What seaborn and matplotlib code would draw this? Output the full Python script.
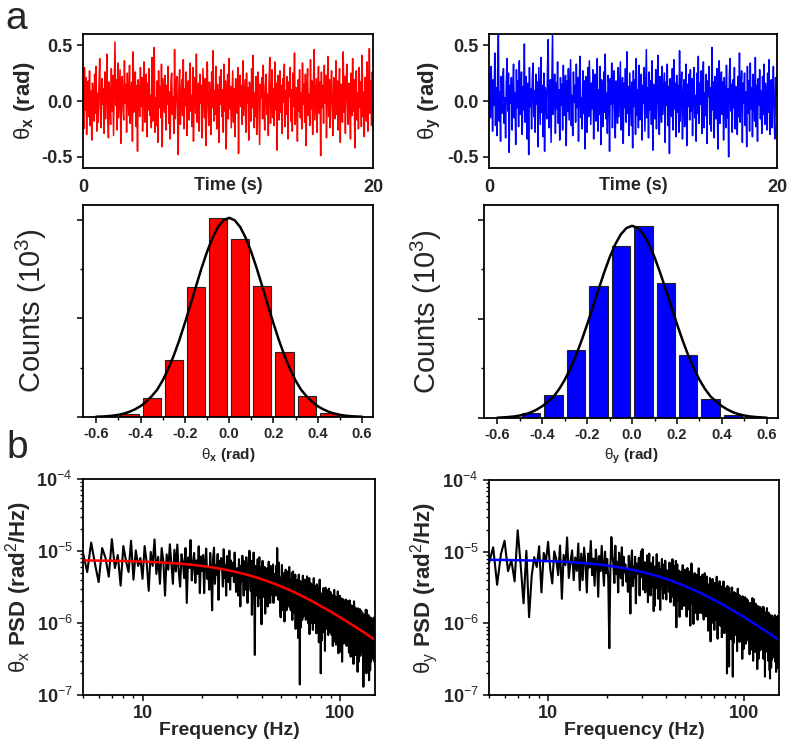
import numpy as np
import matplotlib
matplotlib.use('Agg')
import matplotlib.pyplot as plt
import seaborn as sns
from matplotlib.ticker import MultipleLocator, LogLocator, NullFormatter

# ---- panel a: angle traces (hundredths of a rad), 0-20 s ----
theta_x_trace = [
    12, -25, 30, -8, 21, -30, 5, 18, -14, 27, -22, 9, -35, 16, 3, -18, 24, -11, 31, -27,
    7, -19, 14, 38, -6, -24, 20, -3, 11, -29, 26, -16, 8, 42, -12, -33, 17, 1, -21, 29,
    -9, 23, -31, 13, 53, -4, 19, -26, 34, -15, 6, 28, -38, 10, 22, -7, -17, 36, -2, 15,
    -28, 25, 4, -13, 32, -20, 9, 17, -36, 44, -10, 2, 26, -23, 14, -45, 19, 7, -14, 30,
    -5, 21, -27, 12, 35, -19, 0, 24, -32, 16, -8, 29, -13, 5, -24, 39, -18, 11, 48, -28,
    3, -22, 18, -37, 27, -6, 13, -15, 33, -41, 20, 6, -10, 23, -26, 14, -3, 31, -20, 8,
    -34, 17, 25, -12, 4, -29, 46, -16, 10, 22, -7, -48, 15, 28, -21, 2, 19, -13, 37, -25,
    11, -4, 26, -31, 8, 18, -17, 34, -9, 5, -23, 30, -36, 13, 21, -11, 42, -19, 3, 16,
    -27, 24, -2, 14, -33, 29, 7, -15, 20, -40, 12, 35, -8, -22, 17, 1, -30, 26, -6, 45,
    -18, 9, -12, 31, -25, 15, 4, -37, 22, -3, 28, -14, 10, -28, 33, -9, 18, -43, 6, 24,
    -16, 38, -7, 13, -24, 2, 27, -19, 11, -32, 20, 8, -11, 30, -47, 16, 23, -5, 14, -21,
    36, -13, 4, 19, -28, 25, -2, 12, -35, 17, 9, -18, 29, -6, 41, -24, 7, -14, 22, -30,
    10, 26, -9, -39, 15, 3, 21, -16, 32, -4, -26, 13, 24, -12, 6, -31, 18, 39, -20, 1,
    28, -15, 11, -22, 35, -8, 16, -44, 23, 5, -17, 27, -10, 14, -29, 20, -1, 33, -23, 9,
    -12, 22, -34, 17, 4, 30, -18, 10, -27, 25, -5, 43, -21, 12, 2, -36, 19, -9, 28, -15,
    7, -25, 34, -3, 15, -19, 24, -40, 11, 29, -13, 6, -22, 37, -7, 18, -30, 13, 46, -17,
    2, 20, -28, 9, 31, -11, 17, -49, 26, -6, 14, -20, 32, -2, 23, -33, 8, 40, -14, 19,
    -24, 12, 27, -8, -31, 21, 5, -16, 36, -12, 18, -26, 10, 29, -37, 15, 3, -19, 44, -10,
    22, -29, 13, 33, -4, -21, 16, 6, -34, 25, -13, 38, -9, 19, -42, 11, 27, -17, 7, -25,
    30, -6, 17, -23, 41, -14, 8, -32, 21, 12, -18, 35, -27, 4, 47, -11, 18, -22, 26, 10,
]
theta_y_trace = [
    -8, 24, -15, 31, 6, -27, 19, -4, 43, -22, 12, -31, 27, 60, -18, 8, -36, 22, -11, 15,
    29, -20, 3, -33, 17, 38, -9, 25, -46, 14, -2, 21, -26, 10, 33, -15, 7, -39, 28, -6,
    18, -23, 36, -12, 4, 26, -30, 13, -8, 51, -19, 22, 1, -34, 16, -48, 30, -5, 11, -25,
    20, 34, -14, 9, -28, 24, -3, 17, -41, 30, 6, -21, 39, -10, 14, -32, 25, -45, 12, 3,
    -16, 28, 55, -24, 8, 19, -37, 13, 60, -12, 2, 24, -29, 16, -7, 35, -20, 10, -35, 21,
    -4, 15, -26, 32, -13, 7, 23, -40, 18, -9, 29, -17, 11, 37, -22, 5, -31, 26, -1, 14,
    -19, 33, -6, 21, -36, 12, 40, -15, 3, -25, 27, -11, 18, -43, 22, 8, -28, 30, -14, 36,
    9, -21, 16, -7, 28, -34, 13, 24, -18, 5, 38, -27, 10, -12, 31, -39, 19, 2, -23, 26,
    -10, 42, -16, 7, -29, 23, 15, -45, 20, -3, 34, -24, 12, 27, -8, -33, 18, 6, -20, 30,
    -14, 11, 35, -26, 4, 21, -38, 16, -6, 29, -19, 44, -11, 13, -31, 25, 2, -22, 17, -42,
    27, -5, 19, -30, 38, -13, 10, -24, 32, -17, 7, 24, -35, 14, -2, 30, -27, 9, 46, -15,
    12, -33, 26, -8, 18, -21, 36, -44, 15, 4, -16, 28, -25, 11, 41, -9, -30, 22, 3, -19,
    31, -12, 8, 25, -37, 17, -4, 33, -22, 13, -47, 20, 6, -14, 29, -26, 37, -7, 16, -32,
    23, -10, 14, -28, 45, -18, 9, 26, -34, 2, 19, -23, 12, 33, -40, 15, -5, 24, -17, 28,
    -9, 20, -31, 13, 30, -15, 5, -36, 25, -11, 40, -20, 16, -3, 27, -29, 10, 35, -24, 7,
    -13, 24, -38, 18, 4, 31, -21, 12, -27, 48, -8, 17, -33, 22, 1, -16, 29, -43, 14, 36,
    -20, 9, 26, -12, 17, -35, 21, 3, -24, 32, -15, 11, -50, 23, 38, -9, 15, -28, 19, -6,
    30, -25, 13, 6, -30, 22, -14, 43, -19, 10, 27, -37, 16, -2, 25, -22, 8, -41, 31, -11,
    18, -27, 34, -7, 12, -32, 24, 5, -18, 39, -23, 14, -36, 20, -4, 28, -16, 9, -29, 22,
    -12, 33, -21, 16, 3, -26, 25, -10, 37, -30, 11, 19, -24, 8, 31, -15, -34, 21, 4, 24,
]

# ---- histograms (counts in 10^3) ----
bin_centers = [-0.45, -0.35, -0.25, -0.15, -0.05, 0.05, 0.15, 0.25, 0.35, 0.45]
counts_x = [0.027, 0.19, 0.58, 1.32, 2.02, 1.81, 1.33, 0.66, 0.21, 0.044]
counts_y = [0.047, 0.23, 0.69, 1.33, 1.74, 1.94, 1.36, 0.64, 0.19, 0.027]

gauss_theta = [-0.6, -0.575, -0.55, -0.525, -0.5, -0.475, -0.45, -0.425, -0.4, -0.375,
               -0.35, -0.325, -0.3, -0.275, -0.25, -0.225, -0.2, -0.175, -0.15, -0.125,
               -0.1, -0.075, -0.05, -0.025, 0.0, 0.025, 0.05, 0.075, 0.1, 0.125, 0.15,
               0.175, 0.2, 0.225, 0.25, 0.275, 0.3, 0.325, 0.35, 0.375, 0.4, 0.425, 0.45,
               0.475, 0.5, 0.525, 0.55, 0.575, 0.6]
gauss_fit_x = [0.003, 0.005, 0.008, 0.014, 0.022, 0.035, 0.053, 0.078, 0.11, 0.155,
               0.21, 0.277, 0.371, 0.487, 0.623, 0.779, 0.952, 1.135, 1.323, 1.506,
               1.673, 1.817, 1.927, 1.996, 2.02, 1.996, 1.927, 1.817, 1.673, 1.506, 1.323,
               1.135, 0.952, 0.779, 0.623, 0.487, 0.371, 0.277, 0.21, 0.155, 0.11, 0.078,
               0.053, 0.035, 0.022, 0.014, 0.008, 0.005, 0.003]
gauss_fit_y = [0.003, 0.006, 0.010, 0.016, 0.025, 0.038, 0.058, 0.085, 0.12, 0.165,
               0.216, 0.292, 0.386, 0.500, 0.633, 0.783, 0.947, 1.120, 1.296, 1.466,
               1.622, 1.754, 1.855, 1.918, 1.94, 1.918, 1.855, 1.754, 1.622, 1.466, 1.296,
               1.120, 0.947, 0.783, 0.633, 0.500, 0.386, 0.292, 0.216, 0.165, 0.12, 0.085,
               0.058, 0.038, 0.025, 0.016, 0.010, 0.006, 0.003]

# ---- panel b: PSD, 5-150 Hz every 0.25 Hz, in units of 1e-8 rad^2/Hz ----
psd_x = [
    950, 510, 1310, 660, 370, 1100, 800, 440, 1460, 580, 880, 330, 1170, 730, 510, 1390, 400, 1020, 620, 800,
    410, 1170, 690, 280, 970, 620, 1450, 480, 830, 350, 1100, 720, 240, 900, 550, 1240, 660, 350, 1040, 520,
    1230, 520, 320, 900, 710, 420, 1100, 190, 810, 580, 1420, 390, 650, 940, 360, 740, 480, 1160, 260, 840,
    530, 880, 260, 700, 1080, 410, 590, 290, 940, 500, 150, 790, 1110, 350, 640, 470, 910, 210, 730, 560,
    800, 580, 320, 1060, 420, 640, 240, 850, 530, 370, 1010, 290, 740, 450, 580, 690, 370, 950, 480, 270,
    340, 580, 240, 770, 500, 170, 620, 380, 860, 460, 240, 720, 360, 290, 820, 480, 190, 670, 430, 1010,
    470, 280, 730, 130, 540, 390, 950, 260, 36, 620, 240, 500, 320, 770, 170, 560, 820, 340, 220, 600,
    96, 520, 730, 230, 420, 310, 600, 135, 480, 370, 350, 580, 170, 460, 710, 270, 390, 190, 620, 330,
    550, 340, 240, 650, 190, 480, 290, 380, 450, 240, 620, 310, 1100, 510, 380, 210, 690, 270, 410, 150,
    120, 430, 270, 640, 210, 370, 150, 490, 320, 105, 400, 240, 550, 290, 150, 460, 230, 180, 520, 300,
    250, 600, 165, 275, 400, 150, 320, 205, 500, 110, 360, 520, 220, 140, 385, 300, 180, 470, 83, 345,
    175, 245, 125, 395, 210, 62, 335, 470, 150, 270, 14, 385, 86, 310, 235, 220, 370, 110, 295, 455,
    122, 310, 190, 245, 290, 155, 400, 200, 111, 335, 245, 133, 445, 178, 265, 100, 355, 220, 155, 420,
    70, 260, 160, 360, 190, 100, 300, 150, 120, 340, 200, 80, 280, 180, 420, 140, 240, 100, 320, 210,
    210, 136, 325, 72, 235, 345, 145, 91, 255, 200, 118, 310, 54, 225, 163, 400, 109, 180, 260, 20,
    131, 255, 57, 205, 156, 148, 245, 74, 197, 305, 115, 164, 82, 262, 139, 41, 220, 310, 98, 180,
    165, 128, 210, 83, 285, 105, 150, 240, 68, 180, 120, 300, 90, 165, 225, 75, 135, 270, 105, 195,
    103, 205, 69, 130, 245, 110, 178, 48, 144, 220, 69, 164, 96, 288, 123, 192, 55, 137, 233, 82,
    163, 50, 225, 94, 144, 69, 181, 125, 75, 275, 113, 156, 38, 213, 81, 138, 175, 63, 100, 238,
    109, 144, 40, 178, 92, 127, 69, 219, 155, 29, 98, 184, 58, 115, 81, 213, 138, 52, 173, 104,
    138, 74, 191, 95, 53, 159, 117, 64, 212, 85, 127, 48, 170, 106, 74, 201, 58, 148, 90, 117,
    59, 167, 98, 39, 137, 88, 206, 69, 118, 49, 157, 103, 34, 127, 78, 176, 93, 49, 147, 74,
    173, 73, 46, 127, 100, 59, 155, 27, 114, 82, 200, 55, 91, 132, 50, 105, 68, 164, 36, 118,
    76, 126, 38, 101, 155, 59, 84, 42, 134, 71, 21, 113, 160, 50, 92, 67, 130, 29, 105, 80,
    117, 86, 47, 156, 62, 94, 35, 125, 78, 55, 148, 43, 109, 66, 86, 101, 55, 140, 70, 39,
    51, 88, 37, 117, 13, 26, 95, 58, 131, 69, 37, 110, 55, 44, 124, 73, 29, 102, 66, 153,
    75, 44, 116, 20, 85, 61, 150, 41, 68, 99, 37, 78, 51, 122, 27, 88, 129, 54, 34, 95,
    16, 86, 122, 38, 70, 51, 99, 22, 80, 61, 58, 96, 29, 77, 118, 45, 64, 32, 102, 54,
    96, 60, 42, 114, 33, 84, 51, 66, 78, 42, 108, 54, 30, 90, 66, 36, 120, 48, 72, 27,
]
psd_y = [
    690, 1150, 345, 920, 1420, 535, 765, 385, 1990, 650, 190, 1030, 122, 460, 840, 610, 1190, 270, 960, 730,
    1370, 580, 360, 1010, 790, 470, 1220, 220, 900, 650, 1580, 430, 720, 1040, 400, 830, 540, 1300, 290, 940,
    400, 1140, 670, 270, 940, 600, 1410, 470, 800, 335, 1070, 700, 235, 870, 535, 1210, 640, 335, 1000, 500,
    790, 420, 45, 545, 1600, 910, 665, 365, 1210, 485, 725, 270, 970, 605, 425, 1150, 335, 850, 515, 665,
    385, 550, 275, 875, 465, 137, 740, 1040, 330, 605, 440, 850, 190, 685, 520, 495, 820, 245, 660, 1010,
    445, 1085, 295, 495, 715, 270, 565, 370, 890, 197, 640, 940, 395, 245, 690, 540, 320, 840, 148, 615,
    176, 616, 396, 924, 308, 528, 220, 704, 462, 154, 572, 352, 792, 418, 220, 660, 330, 264, 748, 440,
    215, 550, 335, 430, 510, 275, 705, 355, 197, 590, 430, 235, 785, 315, 470, 177, 630, 395, 275, 745,
    88, 473, 665, 210, 385, 280, 543, 123, 438, 333, 315, 525, 158, 420, 648, 245, 350, 175, 560, 298,
    358, 233, 560, 124, 404, 591, 249, 156, 435, 342, 202, 529, 93, 389, 280, 684, 187, 311, 451, 171,
    98, 363, 223, 502, 265, 140, 419, 209, 167, 474, 279, 112, 391, 251, 586, 195, 335, 140, 446, 293,
    275, 213, 350, 138, 475, 175, 250, 400, 113, 300, 200, 500, 150, 275, 375, 125, 225, 450, 175, 325,
    214, 281, 79, 349, 180, 248, 135, 428, 304, 56, 191, 360, 113, 225, 158, 416, 270, 101, 338, 203,
    264, 81, 365, 152, 233, 112, 294, 203, 122, 447, 183, 254, 61, 345, 132, 223, 284, 102, 162, 386,
    137, 275, 92, 174, 329, 146, 238, 64, 192, 293, 92, 220, 128, 384, 165, 256, 73, 183, 311, 110,
    216, 116, 299, 149, 83, 249, 20, 100, 332, 133, 199, 75, 266, 166, 25, 315, 91, 232, 141, 183,
    91, 257, 151, 60, 211, 136, 317, 106, 181, 18, 242, 159, 53, 196, 121, 272, 143, 76, 227, 113,
    262, 110, 69, 193, 152, 90, 235, 41, 173, 124, 304, 83, 138, 200, 76, 159, 104, 248, 55, 179,
    113, 189, 57, 151, 233, 88, 126, 63, 202, 107, 32, 170, 239, 76, 139, 101, 195, 44, 158, 120,
    174, 128, 70, 232, 93, 139, 52, 186, 116, 81, 220, 64, 162, 99, 128, 151, 81, 209, 104, 58,
    75, 128, 54, 171, 112, 37, 139, 86, 193, 102, 54, 161, 80, 64, 182, 107, 43, 150, 96, 225,
    109, 64, 168, 30, 124, 89, 218, 59, 99, 144, 54, 114, 74, 178, 40, 129, 188, 79, 50, 139,
    64, 92, 46, 147, 78, 23, 124, 175, 55, 101, 74, 143, 32, 115, 87, 83, 138, 41, 110, 170,
    136, 85, 60, 162, 47, 119, 72, 94, 111, 60, 153, 77, 43, 128, 94, 51, 170, 68, 102, 38,
    32, 111, 71, 166, 55, 95, 40, 126, 83, 18, 103, 63, 142, 75, 40, 119, 59, 47, 134, 79,
    67, 163, 44, 74, 107, 41, 85, 56, 133, 30, 96, 141, 59, 37, 104, 81, 48, 126, 22, 93,
    17, 93, 131, 41, 76, 55, 107, 24, 86, 66, 62, 104, 31, 83, 128, 48, 69, 35, 110, 59,
    36, 91, 55, 72, 85, 46, 117, 59, 33, 98, 72, 39, 130, 52, 78, 29, 104, 65, 46, 124,
    21, 79, 49, 110, 58, 31, 92, 46, 37, 104, 61, 24, 85, 55, 128, 43, 73, 31, 98, 64,
]

# Lorentzian fits, units of 1e-6 rad^2/Hz
fit_freq = [5, 6, 7, 8, 9, 10, 12, 14, 16, 18, 20, 23, 26, 30, 35, 40, 45, 50, 57, 65,
            75, 85, 100, 115, 130, 150]
fit_x = [7.40, 7.36, 7.31, 7.26, 7.19, 7.13, 6.97, 6.80, 6.61, 6.41, 6.20, 5.87, 5.53,
         5.09, 4.56, 4.07, 3.63, 3.24, 2.77, 2.33, 1.89, 1.56, 1.20, 0.943, 0.758, 0.584]
fit_y = [7.70, 7.65, 7.60, 7.54, 7.47, 7.40, 7.23, 7.05, 6.84, 6.63, 6.40, 6.05, 5.70,
         5.23, 4.67, 4.16, 3.70, 3.30, 2.81, 2.36, 1.92, 1.58, 1.21, 0.949, 0.763, 0.587]


sns.set_theme(style='ticks')
plt.rcParams['font.family'] = ['Liberation Sans', 'DejaVu Sans']
plt.rcParams['mathtext.fontset'] = 'custom'
plt.rcParams['mathtext.rm'] = 'Liberation Sans'
plt.rcParams['mathtext.it'] = 'Liberation Sans:italic'
plt.rcParams['mathtext.bf'] = 'Liberation Sans:bold'
plt.rcParams['axes.unicode_minus'] = False
plt.rcParams['axes.edgecolor'] = 'black'
plt.rcParams['axes.linewidth'] = 1.3

W, H = 787, 742


def add_axes(fig, x0, y0, x1, y1):
    # pixel box -> figure fraction
    return fig.add_axes([x0 / W, 1 - y1 / H, (x1 - x0) / W, (y1 - y0) / H])


def style_ticks(ax, size):
    ax.tick_params(axis='both', which='major', direction='out', length=4, width=1.1,
                   labelsize=size, color='black')
    ax.tick_params(axis='both', which='minor', direction='out', length=2.5, width=1.0,
                   color='black')
    for lab in ax.get_xticklabels() + ax.get_yticklabels():
        lab.set_fontweight('bold')


def plot_trace(ax, trace, color, sub):
    t = np.linspace(0, 20, len(trace))
    sns.lineplot(x=t, y=np.array(trace) / 100, ax=ax, color=color, linewidth=1.1,
                 estimator=None, sort=False)
    ax.set_xlim(0, 20)
    ax.set_ylim(-0.6, 0.6)
    ax.set_yticks([-0.5, 0, 0.5], labels=['-0.5', '0.0', '0.5'])
    ax.set_xticks([0, 20], labels=['0', '20'])
    style_ticks(ax, 13)
    ax.tick_params(axis='x', length=0, pad=8)
    ax.set_xlabel('Time (s)', fontsize=13, fontweight='bold')
    ax.xaxis.set_label_coords(0.5, -0.065)
    ax.set_ylabel(r'$\mathrm{\theta}_{\mathbf{' + sub + r'}}$ (rad)', fontsize=16,
                  fontweight='bold', labelpad=3)


def plot_hist(ax, counts, fit, color, sub, pad):
    sns.barplot(x=bin_centers, y=counts, ax=ax, native_scale=True, width=0.82,
                color=color, saturation=1, edgecolor='#222222', linewidth=0.8,
                errorbar=None)
    sns.lineplot(x=gauss_theta, y=fit, ax=ax, color='black', linewidth=1.8,
                 estimator=None, sort=False)
    ax.set_xlim(-0.66, 0.65)
    ax.set_ylim(0, 2.15)
    ax.set_xticks([-0.6, -0.4, -0.2, 0, 0.2, 0.4, 0.6],
                  labels=['-0.6', '-0.4', '-0.2', '0.0', '0.2', '0.4', '0.6'])
    ax.xaxis.set_minor_locator(MultipleLocator(0.1))
    ax.set_yticks([0, 1, 2], labels=['', '', ''])
    ax.yaxis.set_minor_locator(MultipleLocator(0.5))
    style_ticks(ax, 10.5)
    ax.set_xlabel(r'$\mathrm{\theta}_{\mathbf{' + sub + r'}}$ (rad)', fontsize=11,
                  fontweight='bold', labelpad=3)
    ax.set_ylabel('Counts (10$^{3}$)', fontsize=21, labelpad=pad)


def plot_psd(ax, psd, fit, color, sub):
    freq = 5 + 0.25 * np.arange(len(psd))
    sns.lineplot(x=freq, y=np.array(psd) * 1e-8, ax=ax, color='black', linewidth=1.5,
                 estimator=None, sort=False)
    sns.lineplot(x=fit_freq, y=np.array(fit) * 1e-6, ax=ax, color=color, linewidth=1.8,
                 estimator=None, sort=False)
    ax.set_xscale('log')
    ax.set_yscale('log')
    ax.set_xlim(5, 150)
    ax.set_ylim(1e-7, 1e-4)
    ax.set_xticks([10, 100], labels=['10', '100'])
    ax.xaxis.set_minor_locator(LogLocator(base=10, subs=np.arange(2, 10)))
    ax.xaxis.set_minor_formatter(NullFormatter())
    ax.set_yticks([1e-7, 1e-6, 1e-5, 1e-4],
                  labels=[r'$\mathbf{10}^{-7}$', r'$\mathbf{10}^{-6}$',
                          r'$\mathbf{10}^{-5}$', r'$\mathbf{10}^{-4}$'])
    ax.yaxis.set_minor_locator(LogLocator(base=10, subs=np.arange(2, 10)))
    ax.yaxis.set_minor_formatter(NullFormatter())
    style_ticks(ax, 13)
    ax.set_xlabel('Frequency (Hz)', fontsize=14, fontweight='bold', labelpad=0)
    ax.set_ylabel(r'$\mathrm{\theta}_{\mathrm{' + sub + r'}}$ PSD (rad$^{2}$/Hz)',
                  fontsize=16, fontweight='bold', labelpad=2)


fig = plt.figure(figsize=(7.87, 7.42), dpi=100)

ax1 = add_axes(fig, 83, 34, 373, 168)
ax2 = add_axes(fig, 489, 34, 777, 168)
ax3 = add_axes(fig, 83, 205, 373, 417)
ax4 = add_axes(fig, 484, 205, 778, 418)
ax5 = add_axes(fig, 83, 479, 375, 695)
ax6 = add_axes(fig, 489, 480, 779, 695)

plot_trace(ax1, theta_x_trace, '#FF0000', 'x')
plot_trace(ax2, theta_y_trace, '#0000FF', 'y')
plot_hist(ax3, counts_x, gauss_fit_x, '#FF0000', 'x', 17)
plot_hist(ax4, counts_y, gauss_fit_y, '#0000FF', 'y', 21)
plot_psd(ax5, psd_x, fit_x, '#FF0000', 'x')
plot_psd(ax6, psd_y, fit_y, '#0000FF', 'y')

fig.text(5 / W, 1 - 29 / H, 'a', fontsize=28, va='baseline', ha='left')
fig.text(6 / W, 1 - 458 / H, 'b', fontsize=28, va='baseline', ha='left')

fig.savefig('out.png', dpi=100)
